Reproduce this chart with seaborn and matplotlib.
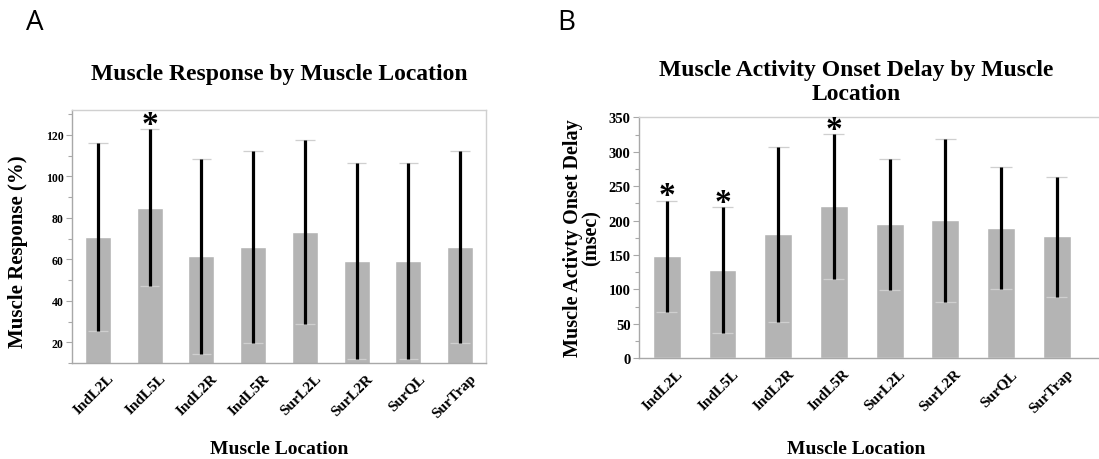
import numpy as np
import pandas as pd
import matplotlib
matplotlib.use("Agg")
import matplotlib.pyplot as plt
import matplotlib.transforms as mtransforms
from matplotlib.ticker import MultipleLocator
import seaborn as sns

# ---------------- data ----------------
locations = ["IndL2L", "IndL5L", "IndL2R", "IndL5R", "SurL2L", "SurL2R", "SurQL", "SurTrap"]

resp_mean = [70.8, 84.8, 61.6, 66.0, 73.2, 59.2, 59.2, 66.0]
resp_low = [25.6, 46.9, 14.2, 19.8, 28.7, 11.8, 11.8, 19.8]
resp_high = [116.1, 122.6, 108.5, 112.4, 117.6, 106.5, 106.5, 112.4]
resp_sig = [False, True, False, False, False, False, False, False]

delay_mean = [148.6, 128.3, 180.5, 221.2, 195.1, 200.9, 189.3, 177.6]
delay_low = [67.3, 37.3, 52.8, 115.2, 99.2, 81.3, 100.2, 89.5]
delay_high = [229.0, 219.3, 306.4, 325.3, 289.0, 318.0, 277.3, 263.8]
delay_sig = [True, True, False, True, False, False, False, False]

# ---------------- style ----------------
sns.set_style("white")
plt.rcParams["font.family"] = ["Liberation Serif", "DejaVu Serif"]
plt.rcParams["font.weight"] = "bold"
plt.rcParams["text.color"] = "black"
plt.rcParams["axes.labelcolor"] = "black"
plt.rcParams["xtick.color"] = "black"
plt.rcParams["ytick.color"] = "black"

BAR = "#b4b4b4"
CAP = "#cfcfcf"
SPINE_DARK = "#a8a8a8"
SPINE_LIGHT = "#d0d0d0"

fig = plt.figure(figsize=(10.99, 4.6), dpi=100)
axA = fig.add_axes([0.0655, 0.2087, 0.3767, 0.5500])
axB = fig.add_axes([0.5814, 0.2189, 0.4186, 0.5239])


def panel(ax, means, lows, highs, sig, ylim, major, minor, tick_size):
    df = pd.DataFrame({"loc": locations, "val": means})
    sns.barplot(data=df, x="loc", y="val", color=BAR, width=0.5, ax=ax,
                errorbar=None, saturation=1, zorder=2)
    x = np.arange(len(locations))
    m = np.array(means)
    lo = np.array(lows)
    hi = np.array(highs)
    ax.hlines(lo, x - 0.19, x + 0.19, color=CAP, lw=0.9, zorder=3)
    ax.hlines(hi, x - 0.19, x + 0.19, color=CAP, lw=0.9, zorder=3)
    ax.errorbar(x, m, yerr=[m - lo, hi - m], fmt="none", ecolor="black",
                elinewidth=2.3, capsize=0, zorder=4)
    for xi, h, s in zip(x, hi, sig):
        if s:
            ax.annotate("*", (xi, h), xytext=(0, -2.5), textcoords="offset points",
                        ha="center", va="baseline", fontsize=24, fontweight="bold",
                        color="black")
    ax.set_ylim(*ylim)
    ax.yaxis.set_major_locator(MultipleLocator(major))
    ax.yaxis.set_minor_locator(MultipleLocator(minor))
    ax.tick_params(axis="y", which="major", direction="out", length=4, width=0.8,
                   color=SPINE_DARK, labelcolor="black", labelsize=tick_size, pad=2, left=True)
    ax.tick_params(axis="y", which="minor", direction="out", length=3, width=0.8,
                   color=SPINE_DARK, left=True)
    ax.tick_params(axis="x", length=0, labelsize=11, pad=0, labelcolor="black")
    for lab in ax.get_yticklabels():
        lab.set_fontweight("bold")
    ax.set_xlabel("")
    ax.set_ylabel("")
    offset = mtransforms.ScaledTranslation(14 / 100, -13 / 100, fig.dpi_scale_trans)
    for lab in ax.get_xticklabels():
        lab.set_rotation(45)
        lab.set_ha("right")
        lab.set_va("center")
        lab.set_rotation_mode("anchor")
        lab.set_fontweight("bold")
        lab.set_transform(lab.get_transform() + offset)
    for side in ["left", "bottom"]:
        ax.spines[side].set_color(SPINE_DARK)
        ax.spines[side].set_linewidth(1.0)
    for side in ["top", "right"]:
        ax.spines[side].set_color(SPINE_LIGHT)
        ax.spines[side].set_linewidth(1.0)


panel(axA, resp_mean, resp_low, resp_high, resp_sig, (10, 132), 20, 10, 8.5)
axA.set_xlim(-0.5, 7.5)
panel(axB, delay_mean, delay_low, delay_high, delay_sig, (0, 350), 50, 25, 10.5)
axB.set_xlim(-0.5, 7.76)
axB.spines["right"].set_visible(False)

# titles
fig.text(0.254, 0.838, "Muscle Response by Muscle Location", ha="center", va="center",
         fontsize=17, fontweight="bold")
fig.text(0.779, 0.821, "Muscle Activity Onset Delay by Muscle\nLocation", ha="center",
         va="center", fontsize=17, fontweight="bold", linespacing=1.15)

# axis labels
fig.text(0.254, 0.022, "Muscle Location", ha="center", va="center", fontsize=14, fontweight="bold")
fig.text(0.779, 0.022, "Muscle Location", ha="center", va="center", fontsize=14, fontweight="bold")
fig.text(0.016, 0.452, "Muscle Response (%)", ha="center", va="center", rotation=90,
         fontsize=15, fontweight="bold")
fig.text(0.530, 0.483, "Muscle Activty Onset Delay\n(msec)", ha="center", va="center",
         rotation=90, fontsize=14.5, fontweight="bold", linespacing=0.95)

# panel letters
fig.text(0.024, 0.95, "A", ha="left", va="center", fontsize=20,
         family=["Open Sans", "DejaVu Sans"], fontweight="normal")
fig.text(0.507, 0.95, "B", ha="left", va="center", fontsize=20,
         family=["Open Sans", "DejaVu Sans"], fontweight="normal")

fig.savefig("out.png", dpi=100)
